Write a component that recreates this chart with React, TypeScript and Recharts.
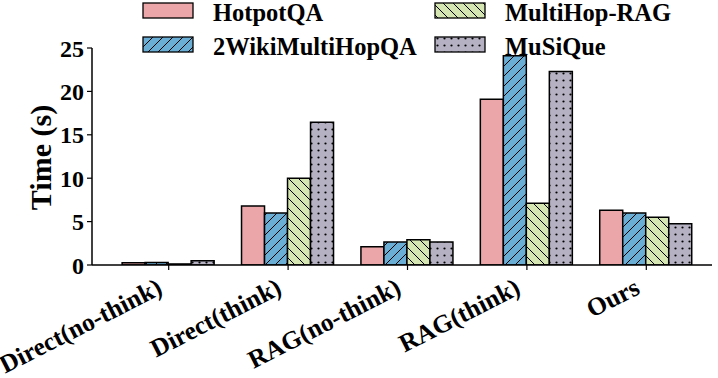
import React from 'react';
import { BarChart, Bar, XAxis, YAxis } from 'recharts';

const categories = ['Direct(no-think)', 'Direct(think)', 'RAG(no-think)', 'RAG(think)', 'Ours'];
const hotpotQA = [0.25, 6.8, 2.1, 19.1, 6.3];
const wikiMultiHopQA = [0.3, 6.0, 2.65, 24.1, 6.0];
const multiHopRAG = [0.12, 10.0, 2.9, 7.1, 5.5];
const muSiQue = [0.5, 16.45, 2.65, 22.3, 4.75];
const yTicks = [0, 5, 10, 15, 20, 25];

const seriesNames = ['HotpotQA', '2WikiMultiHopQA', 'MultiHop-RAG', 'MuSiQue'];
const seriesKeys = ['hotpot', 'wiki', 'multihop', 'musique'];
const seriesFills = ['#EBA6A9', 'url(#hatchWiki)', 'url(#hatchMulti)', 'url(#dotsMusique)'];

const data = categories.map((c, i) => ({
  name: c,
  hotpot: hotpotQA[i],
  wiki: wikiMultiHopQA[i],
  multihop: multiHopRAG[i],
  musique: muSiQue[i],
}));

const FONT = "'Liberation Serif', 'Times New Roman', Times, serif";

const XTick = (props: any) => {
  const { x, y, payload } = props;
  return (
    <g transform={`translate(${x - 5},${y + 21})`}>
      <text
        x={0}
        y={0}
        textAnchor="end"
        transform="rotate(-27)"
        style={{ fontFamily: FONT, fontWeight: 700, fontSize: 25.5 }}
        fill="#000"
      >
        {payload.value}
      </text>
    </g>
  );
};

const legendPos = [
  { x: 143, y: 3 },
  { x: 143, y: 37 },
  { x: 435, y: 3 },
  { x: 435, y: 37 },
];

const LegendBox = () => (
  <svg width={718} height={60} style={{ position: 'absolute', left: 0, top: 0 }}>
    {seriesNames.map((n, i) => (
      <g key={n}>
        <rect
          x={legendPos[i].x}
          y={legendPos[i].y}
          width={50}
          height={15}
          fill={seriesFills[i]}
          stroke="#000"
          strokeWidth={1.3}
        />
        <text
          x={legendPos[i].x + 70}
          y={legendPos[i].y + 17.5}
          style={{ fontFamily: FONT, fontWeight: 700, fontSize: 24.5 }}
          fill="#000"
        >
          {n}
        </text>
      </g>
    ))}
  </svg>
);

export default function App() {
  return (
    <div style={{ position: 'absolute', left: 0, top: 0, width: 718, height: 378, background: '#fff', fontFamily: FONT }}>
      <BarChart
        width={718}
        height={378}
        data={data}
        margin={{ top: 48, right: 6, bottom: 0, left: 0 }}
        barCategoryGap="11%"
        barGap={0}
      >
        <defs>
          <pattern id="hatchWiki" patternUnits="userSpaceOnUse" width={10} height={10}>
            <rect width={10} height={10} fill="#6AADD5" />
            <path d="M0,10 L10,0 M-2.5,2.5 L2.5,-2.5 M7.5,12.5 L12.5,7.5" stroke="#000" strokeWidth={1} />
          </pattern>
          <pattern id="hatchMulti" patternUnits="userSpaceOnUse" width={10} height={10}>
            <rect width={10} height={10} fill="#D6E6B3" />
            <path d="M0,0 L10,10 M-2.5,7.5 L2.5,12.5 M7.5,-2.5 L12.5,2.5" stroke="#000" strokeWidth={1} />
          </pattern>
          <pattern id="dotsMusique" patternUnits="userSpaceOnUse" width={7} height={7}>
            <rect width={7} height={7} fill="#B5B1C2" />
            <circle cx={3.5} cy={3.5} r={1.1} fill="#000" />
          </pattern>
        </defs>
        <XAxis
          dataKey="name"
          height={113}
          padding={{ left: 17, right: 6 }}
          axisLine={{ stroke: '#000', strokeWidth: 1.5 }}
          tickLine={{ stroke: '#000', strokeWidth: 1.2 }}
          tickSize={5}
          interval={0}
          tick={<XTick />}
        />
        <YAxis
          width={92}
          domain={[0, 25]}
          ticks={yTicks}
          allowDataOverflow
          axisLine={{ stroke: '#000', strokeWidth: 1.5 }}
          tickLine={{ stroke: '#000', strokeWidth: 1.2 }}
          tickSize={5}
          tickMargin={3}
          tick={{ style: { fontFamily: FONT, fontWeight: 700, fontSize: 24 }, fill: '#000' }}
          label={{
            content: (p: any) => {
              const vb = p.viewBox || { x: 0, y: 48, width: 92, height: 217 };
              const cx = 40;
              const cy = vb.y + vb.height / 2 + 1;
              return (
                <text
                  x={cx}
                  y={cy}
                  transform={`rotate(-90, ${cx}, ${cy})`}
                  textAnchor="middle"
                  dominantBaseline="central"
                  style={{ fontFamily: FONT, fontWeight: 700, fontSize: 30 }}
                  fill="#000"
                >
                  Time (s)
                </text>
              );
            },
          }}
        />
        {seriesKeys.map((k, i) => (
          <Bar
            key={k}
            dataKey={k}
            name={seriesNames[i]}
            fill={seriesFills[i]}
            stroke="#000"
            strokeWidth={1.5}
            isAnimationActive={false}
          />
        ))}
      </BarChart>
      <LegendBox />
    </div>
  );
}
